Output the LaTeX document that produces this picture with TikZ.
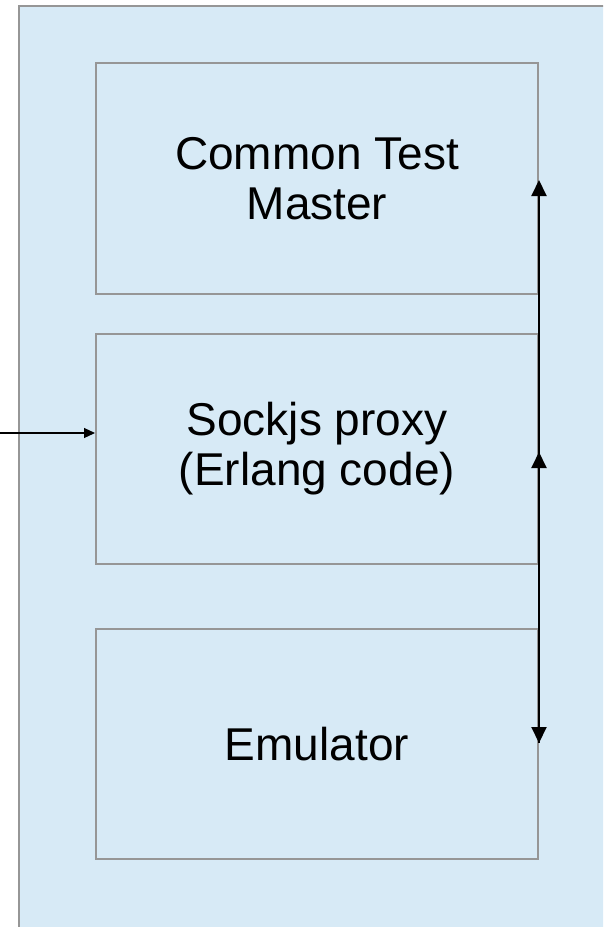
\documentclass[tikz,border=0pt]{standalone}
\usepackage{fontspec}
\setmainfont{Liberation Sans}
\usetikzlibrary{arrows.meta}
\definecolor{bgblue}{RGB}{215,234,246}
\definecolor{edgegray}{RGB}{150,150,150}
\tikzset{
  box/.style={draw=edgegray, line width=2pt, fill=bgblue, minimum width=442pt, inner sep=0pt, align=center, font=\fontsize{46}{50}\selectfont},
  bus/.style={draw=black, line width=2pt, -{Triangle[length=16pt,width=15pt]}},
  busboth/.style={draw=black, line width=2pt, {Triangle[length=16pt,width=15pt]}-{Triangle[length=16pt,width=15pt]}},
  inarrow/.style={draw=black, line width=1.2pt, -{Triangle[length=11pt,width=10pt]}}
}
\begin{document}
\begin{tikzpicture}[x=1pt,y=-1pt]
\clip (0,0) rectangle (603,927);
\fill[white] (0,0) rectangle (603,927);
\draw[draw=edgegray, line width=2pt, fill=bgblue] (19,6) rectangle (640,960);
\node[box, minimum height=231pt] (b1) at (317,178.5) {Common Test\\Master};
\node[box, minimum height=230pt] (b2) at (317,449) {Sockjs proxy\\(Erlang code)};
\node[box, minimum height=230pt] (b3) at (317,744) {Emulator};
\coordinate (c1) at (b1.east |- 0,180);
\coordinate (c2) at (b1.east |- 0,452);
\coordinate (c3) at (b1.east |- 0,743);
\draw[busboth] (c3) -- (c1);
\draw[bus] (c3) -- (c2);
\coordinate (ext) at (0,433);
\draw[inarrow] (ext) -- (ext -| b2.west);
\end{tikzpicture}
\end{document}
